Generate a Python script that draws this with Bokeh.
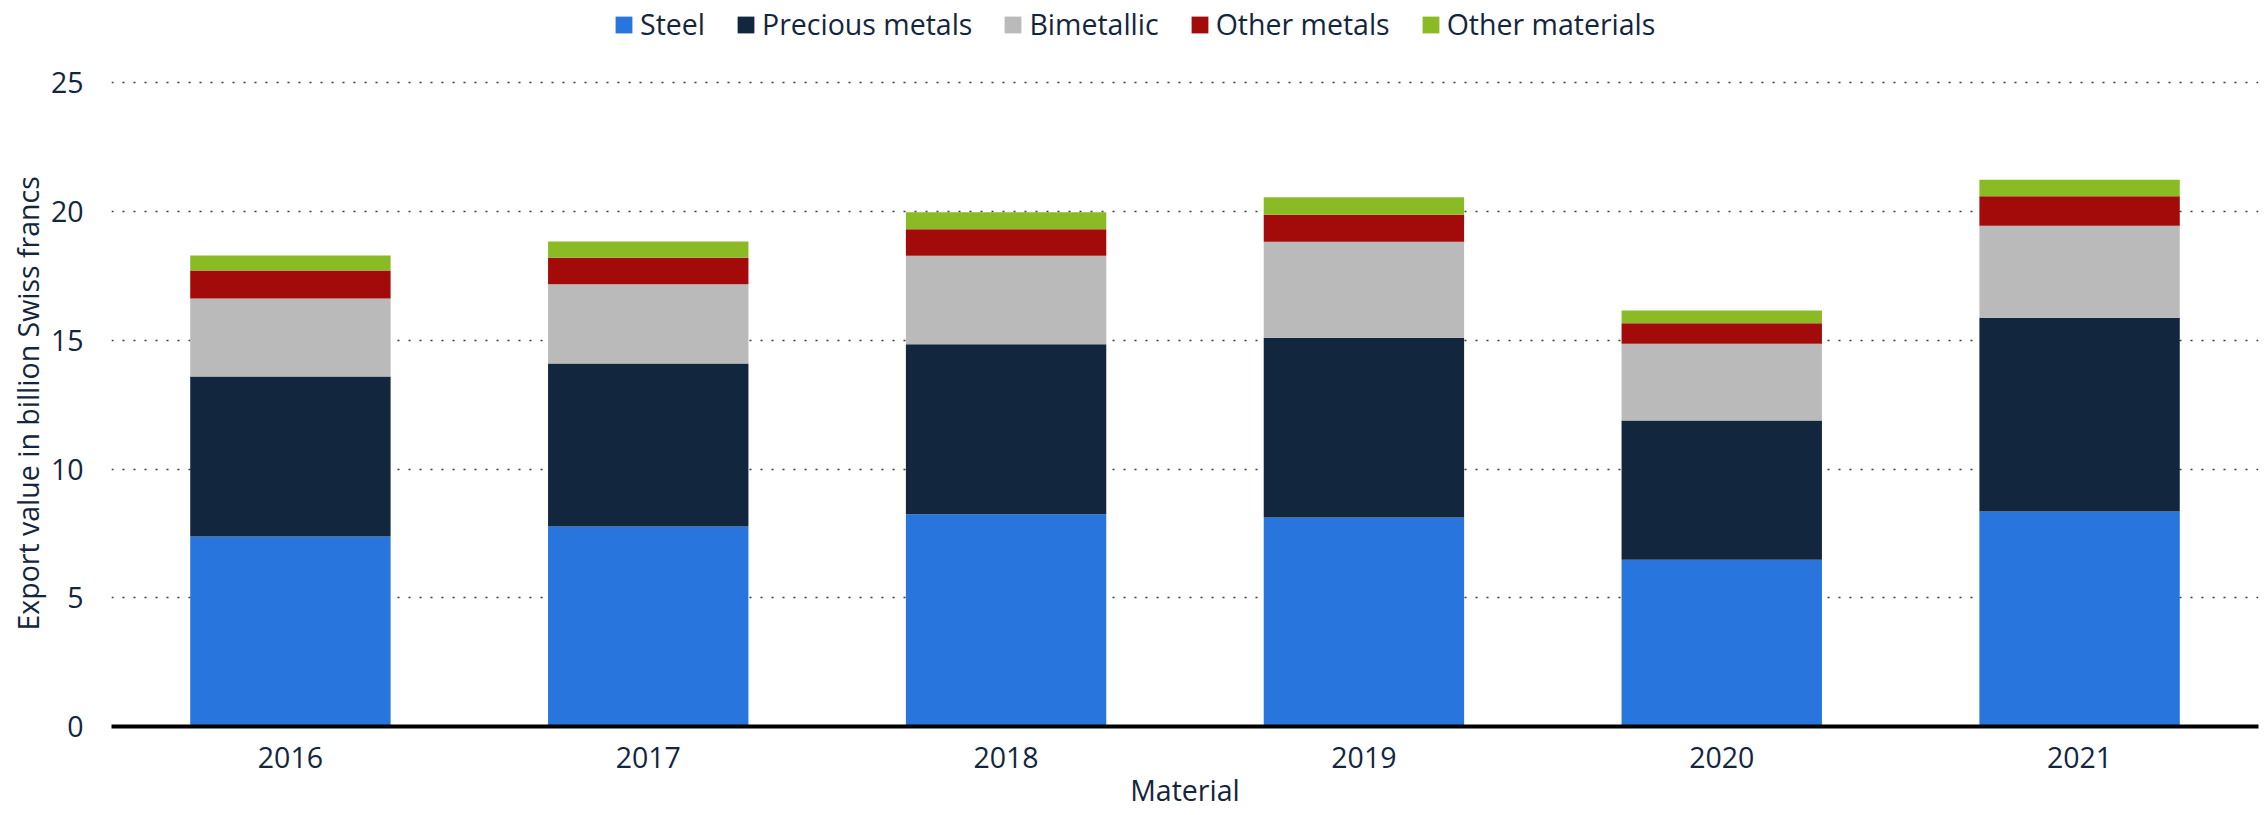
from bokeh.plotting import figure
from bokeh.models import FactorRange, Range1d, FixedTicker, Legend, LegendItem, ColumnDataSource, Title
from bokeh.embed import file_html
from bokeh.resources import INLINE

years = ["2016", "2017", "2018", "2019", "2020", "2021"]
series_names = ["Steel", "Precious metals", "Bimetallic", "Other metals", "Other materials"]
steel = [7.38, 7.77, 8.25, 8.12, 6.48, 8.35]
precious_metals = [6.22, 6.33, 6.60, 6.98, 5.41, 7.53]
bimetallic = [3.03, 3.08, 3.44, 3.73, 2.98, 3.57]
other_metals = [1.09, 1.03, 1.03, 1.05, 0.80, 1.15]
other_materials = [0.58, 0.63, 0.66, 0.68, 0.49, 0.64]
y_ticks = [0, 5, 10, 15, 20, 25]
x_title = "Material"
y_title = "Export value in billion Swiss francs"

colors = ["#2876dd", "#12263d", "#bababa", "#a30b0b", "#8aba24"]
keys = ["steel", "precious", "bimetallic", "other_metals", "other_materials"]
TEXT = "#14263d"
FONT = "Open Sans"
FS = "28.5px"

source = ColumnDataSource(dict(year=years, steel=steel, precious=precious_metals,
                               bimetallic=bimetallic, other_metals=other_metals,
                               other_materials=other_materials))

W, H = 2266, 815
p = figure(x_range=FactorRange(*years, range_padding=0), y_range=Range1d(0, 28.205),
           width=W, height=H, output_backend="svg", toolbar_location=None,
           min_border_left=111, min_border_right=8, min_border_top=0, min_border_bottom=89)
p.outline_line_color = None

renderers = p.vbar_stack(keys, x="year", width=0.56, source=source, color=colors, line_color=None)

p.xgrid.visible = False
p.ygrid.grid_line_color = "#3a3a3a"
p.ygrid.grid_line_dash = "2 9"
p.ygrid.grid_line_width = 1.7

p.yaxis.ticker = FixedTicker(ticks=y_ticks)
p.yaxis.axis_line_color = None
p.yaxis.major_tick_line_color = None
p.yaxis.minor_tick_line_color = None
p.yaxis.major_tick_out = 0
p.yaxis.major_tick_in = 0
p.yaxis.major_label_standoff = 28

p.xaxis.axis_line_color = "black"
p.xaxis.axis_line_width = 4
p.xaxis.major_tick_line_color = None
p.xaxis.minor_tick_line_color = None
p.xaxis.major_tick_out = 0
p.xaxis.major_tick_in = 0
p.xaxis.major_label_standoff = 20
p.xaxis.axis_label = x_title
p.xaxis.axis_label_standoff = 0

for ax in (p.xaxis[0], p.yaxis[0]):
    ax.major_label_text_font = FONT
    ax.major_label_text_font_size = FS
    ax.major_label_text_color = TEXT
    ax.axis_label_text_font = FONT
    ax.axis_label_text_font_size = FS
    ax.axis_label_text_font_style = "normal"
    ax.axis_label_text_color = TEXT

p.add_layout(Title(text=y_title, align="left", offset=96, standoff=2,
                   text_font=FONT, text_font_size=FS, text_font_style="normal",
                   text_color=TEXT), "left")

items = [LegendItem(label=n, renderers=[r]) for n, r in zip(series_names, renderers)]
legend = Legend(items=items, orientation="horizontal", location=(502, 683),
                label_text_font=FONT, label_text_font_size=FS, label_text_color=TEXT,
                glyph_width=21, glyph_height=21, label_standoff=6, spacing=30,
                padding=0, margin=0, border_line_color=None, background_fill_alpha=0)
p.add_layout(legend, "center")

open("out.html", "w").write(file_html(p, INLINE))
